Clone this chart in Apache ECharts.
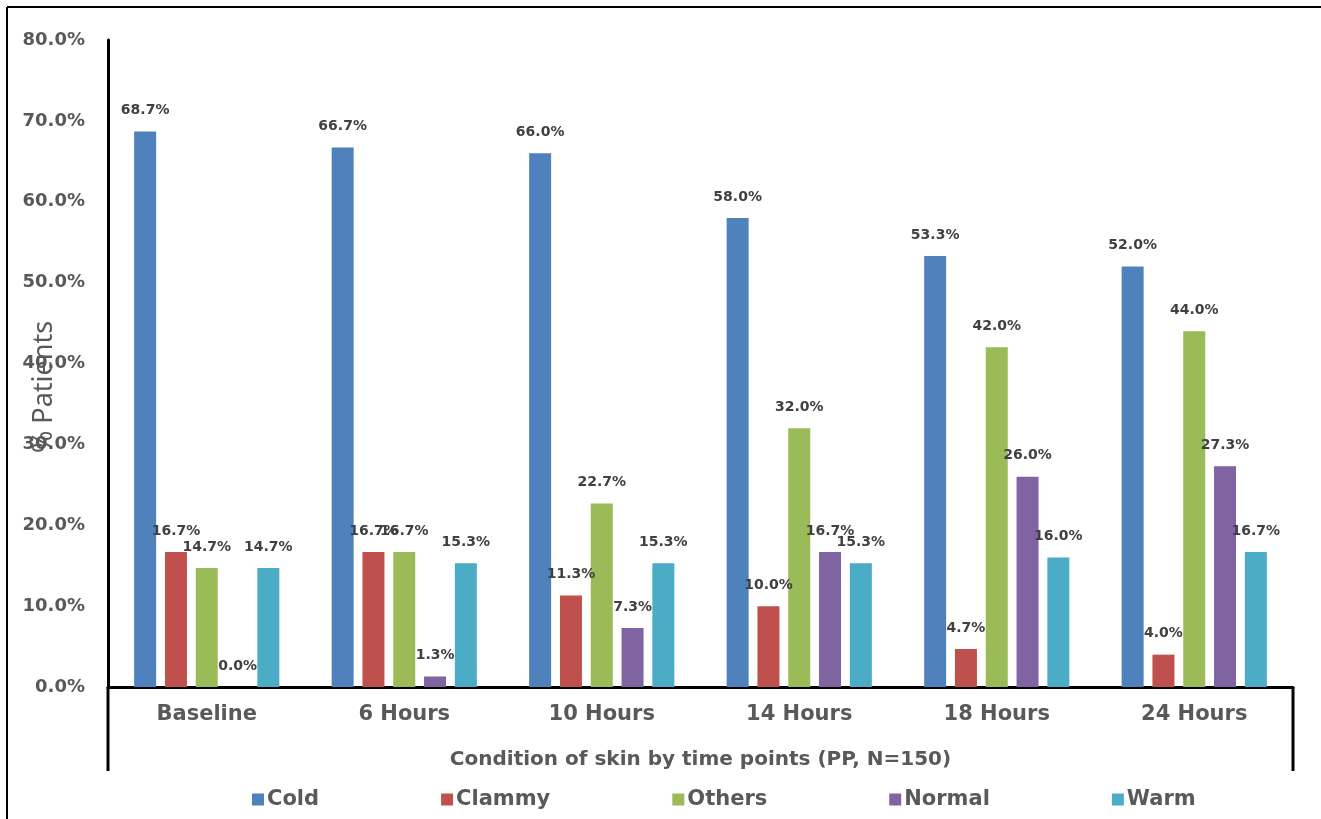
<!DOCTYPE html>
<html>
<head>
<meta charset="utf-8">
<script src="https://cdn.jsdelivr.net/npm/echarts@6/dist/echarts.min.js"></script>
<style>
  html, body { margin: 0; padding: 0; background: #fff; }
  #chart { width: 1321px; height: 819px; }
</style>
</head>
<body>
<div id="chart"></div>
<script>
// 数据
const categories = ['Baseline', '6 Hours', '10 Hours', '14 Hours', '18 Hours', '24 Hours']
const cold = [68.7, 66.7, 66.0, 58.0, 53.3, 52.0]
const clammy = [16.7, 16.7, 11.3, 10.0, 4.7, 4.0]
const others = [14.7, 16.7, 22.7, 32.0, 42.0, 44.0]
const normal = [0.0, 1.3, 7.3, 16.7, 26.0, 27.3]
const warm = [14.7, 15.3, 15.3, 15.3, 16.0, 16.7]

const font = 'DejaVu Sans, Verdana, sans-serif'
const grey = '#595959'

const chart = echarts.init(document.getElementById('chart'))

function bar(name, data, color) {
  return {
    name: name,
    type: 'bar',
    data: data,
    barWidth: 22,
    barGap: '40%',
    barCategoryGap: '26%',
    itemStyle: {color: color},
    label: {
      show: true,
      position: 'top',
      distance: 14,
      fontFamily: font,
      fontWeight: 'bold',
      fontSize: 14,
      color: '#404040',
      formatter: p => p.value.toFixed(1) + '%'
    }
  }
}

const option = {
  animation: false,
  grid: {left: 108, right: 28, top: 40, bottom: 132},
  legend: {
    bottom: 4,
    left: 247,
    itemWidth: 12,
    itemHeight: 12,
    itemGap: 122,
    icon: 'rect',
    textStyle: {fontFamily: font, fontWeight: 'bold', fontSize: 21, color: grey, padding: [0, 0, 0, -2]}
  },
  xAxis: {
    type: 'category',
    data: categories,
    name: 'Condition of skin by time points (PP, N=150)',
    nameLocation: 'middle',
    nameGap: 63,
    nameTextStyle: {fontFamily: font, fontWeight: 'bold', fontSize: 20, color: grey},
    axisLine: {lineStyle: {color: '#000', width: 3}},
    axisTick: {show: false},
    axisLabel: {fontFamily: font, fontWeight: 'bold', fontSize: 21, color: grey, margin: 17}
  },
  yAxis: {
    type: 'value',
    min: 0,
    max: 80,
    interval: 10,
    axisLine: {show: true, lineStyle: {color: '#000', width: 3}},
    axisTick: {show: false},
    splitLine: {show: false},
    axisLabel: {
      fontFamily: font, fontWeight: 'bold', fontSize: 18, color: grey, margin: 23,
      formatter: v => v.toFixed(1) + '%'
    }
  },
  series: [
    bar('Cold', cold, '#4F81BD'),
    bar('Clammy', clammy, '#C0504D'),
    bar('Others', others, '#9BBB59'),
    bar('Normal', normal, '#8064A2'),
    bar('Warm', warm, '#4BACC6')
  ]
}

chart.setOption(option)

// 边框 + 轴延伸线
const origin = chart.convertToPixel({gridIndex: 0}, [0, 0])
const x0 = 108, x1 = 1321 - 28, yBase = origin[1]
chart.setOption({
  graphic: [
    {type: 'line', shape: {x1: 7, y1: 7, x2: 1321, y2: 7}, style: {stroke: '#000', lineWidth: 2}},
    {type: 'line', shape: {x1: 7, y1: 7, x2: 7, y2: 819}, style: {stroke: '#000', lineWidth: 2}},
    {type: 'line', shape: {x1: x0, y1: yBase, x2: x0, y2: 771}, style: {stroke: '#000', lineWidth: 3}},
    {type: 'line', shape: {x1: x1, y1: yBase, x2: x1, y2: 771}, style: {stroke: '#000', lineWidth: 3}},
    {
      type: 'text', x: 44, y: 387, rotation: Math.PI / 2,
      style: {text: '% Patients', fontFamily: 'Noto Sans, sans-serif', fontSize: 27, fill: grey, align: 'center', verticalAlign: 'middle'}
    }
  ]
})
</script>
</body>
</html>
